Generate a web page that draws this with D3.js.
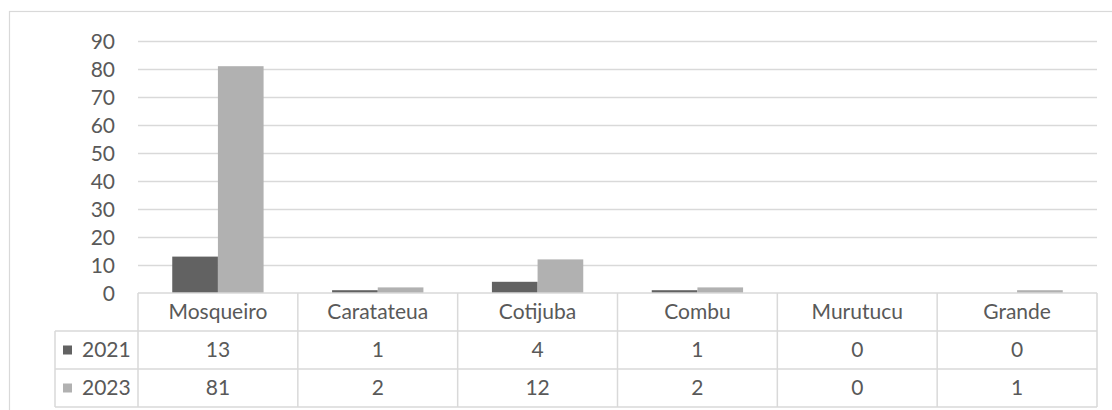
<!DOCTYPE html>
<html>
<head>
<meta charset="utf-8">
<script src="https://cdn.jsdelivr.net/npm/d3@7"></script>
<style>
  html, body { margin: 0; padding: 0; background: #fff; }
  svg { display: block; }
  text { font-family: Lato, "Open Sans", sans-serif; fill: #595959; }
</style>
</head>
<body>
<svg id="chart" width="1112" height="410"></svg>
<script>
// Island names along the category axis
const categories = ["Mosqueiro", "Caratateua", "Cotijuba", "Combu", "Murutucu", "Grande"];
// Series, one per year
const seriesNames = ["2021", "2023"];
const values2021 = [13, 1, 4, 1, 0, 0];
const values2023 = [81, 2, 12, 2, 0, 1];
const yTicks = [0, 10, 20, 30, 40, 50, 60, 70, 80, 90];

const seriesValues = [values2021, values2023];
const colors = ["#626262", "#b1b1b1"];

const svg = d3.select("#chart");
const W = 1112, H = 410;

// plot area and data table layout
const plot = { left: 138, right: 1097, top: 41, bottom: 293 };
const tableLeft = 55;
const rowH = 38;
const fontSize = 21;
const gridColor = "#d9d9d9";

// outer chart border (extends past the visible edges on the right/bottom)
svg.append("rect")
  .attr("x", 9.5).attr("y", 11.5)
  .attr("width", W + 20).attr("height", H + 20)
  .attr("fill", "none").attr("stroke", gridColor).attr("stroke-width", 1.2);

const x = d3.scaleBand().domain(categories).range([plot.left, plot.right]).paddingInner(0).paddingOuter(0);
const y = d3.scaleLinear().domain([0, 90]).range([plot.bottom, plot.top]);

// gap width 150%: two bars occupy 2/3.5 of each category slot
const barW = x.bandwidth() / 3.5;
const xs = d3.scaleBand().domain(seriesNames).range([0, barW * 2]);

// gridlines
svg.append("g")
  .selectAll("line")
  .data(yTicks.filter(t => t > 0))
  .join("line")
  .attr("x1", plot.left).attr("x2", plot.right)
  .attr("y1", d => Math.round(y(d)) + 0.5).attr("y2", d => Math.round(y(d)) + 0.5)
  .attr("stroke", gridColor).attr("stroke-width", 1.3);

// y axis labels
const yAxis = d3.axisLeft(y).tickValues(yTicks).tickSize(0).tickPadding(0);
const yg = svg.append("g").attr("transform", `translate(115,0)`).call(yAxis);
yg.select(".domain").remove();
yg.selectAll("text")
  .attr("font-size", fontSize)
  .attr("fill", "#595959")
  .style("font-family", "Lato, 'Open Sans', sans-serif")
  .attr("dy", "0.35em");

// bars
const groups = svg.append("g")
  .selectAll("g")
  .data(categories)
  .join("g")
  .attr("transform", d => `translate(${x(d) + (x.bandwidth() - barW * 2) / 2},0)`);

groups.selectAll("rect")
  .data((c, i) => seriesNames.map((s, k) => ({ s, v: seriesValues[k][i], k })))
  .join("rect")
  .attr("x", d => xs(d.s))
  .attr("width", xs.bandwidth())
  .attr("y", d => y(d.v))
  .attr("height", d => y(0) - y(d.v))
  .attr("fill", d => colors[d.k]);

// data table
const table = svg.append("g").attr("stroke", gridColor).attr("stroke-width", 1.5).attr("fill", "none");
const t0 = plot.bottom;
const tBottom = t0 + rowH * 3;
// horizontal lines
table.append("line").attr("x1", plot.left).attr("x2", plot.right).attr("y1", t0).attr("y2", t0);
[1, 2, 3].forEach(r => {
  table.append("line").attr("x1", tableLeft).attr("x2", plot.right)
    .attr("y1", t0 + r * rowH).attr("y2", t0 + r * rowH);
});
// vertical lines
table.append("line").attr("x1", tableLeft).attr("x2", tableLeft).attr("y1", t0 + rowH).attr("y2", tBottom);
categories.forEach(c => {
  table.append("line").attr("x1", x(c)).attr("x2", x(c)).attr("y1", t0).attr("y2", tBottom);
});
table.append("line").attr("x1", plot.right).attr("x2", plot.right).attr("y1", t0).attr("y2", tBottom);

// header row: category names
svg.append("g").selectAll("text")
  .data(categories)
  .join("text")
  .attr("x", d => x(d) + x.bandwidth() / 2)
  .attr("y", t0 + rowH / 2)
  .attr("dy", "0.35em")
  .attr("text-anchor", "middle")
  .attr("font-size", fontSize)
  .text(d => d);

// series rows
seriesNames.forEach((s, k) => {
  const cy = t0 + rowH * (k + 1) + rowH / 2;
  svg.append("rect")
    .attr("x", 63).attr("y", cy - 4.5)
    .attr("width", 9).attr("height", 9)
    .attr("fill", colors[k]);
  svg.append("text")
    .attr("x", 82).attr("y", cy).attr("dy", "0.35em")
    .attr("font-size", fontSize)
    .text(s);
  svg.append("g").selectAll("text")
    .data(seriesValues[k])
    .join("text")
    .attr("x", (d, i) => x(categories[i]) + x.bandwidth() / 2)
    .attr("y", cy).attr("dy", "0.35em")
    .attr("text-anchor", "middle")
    .attr("font-size", fontSize)
    .text(d => d);
});
</script>
</body>
</html>
